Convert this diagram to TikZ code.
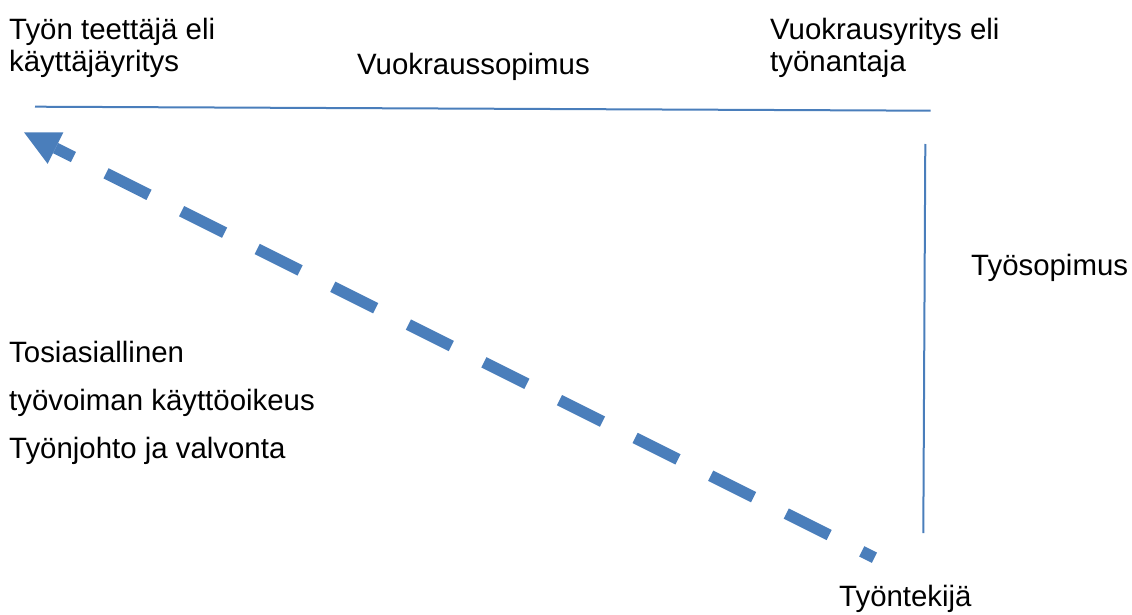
\documentclass[tikz,border=0pt]{standalone}
\usepackage{fontspec}
\setmainfont{Liberation Sans}
\usetikzlibrary{arrows.meta}
\definecolor{lineblue}{RGB}{74,126,187}
\begin{document}
\begin{tikzpicture}[x=1pt,y=-1pt,
  lbl/.style={anchor=base west,inner sep=0pt,font=\fontsize{29.4}{34}\selectfont,text=black},
  thinline/.style={draw=lineblue,line width=2pt},
  dasharrow/.style={draw=lineblue,line width=11.5pt,dash pattern=on 48pt off 36.5pt,dash phase=33.8pt,
    -{Triangle[length=35.3pt,width=35.3pt,line width=0pt]}}]
\useasboundingbox (0,0) rectangle (1132,615);
% texts
\node[lbl] (user1) at (9,39.5) {Työn teettäjä eli};
\node[lbl] (user2) at (9,71.5) {käyttäjäyritys};
\node[lbl] (lease) at (357,74.5) {Vuokraussopimus};
\node[lbl] (agency1) at (770,39.5) {Vuokrausyritys eli};
\node[lbl] (agency2) at (770,71.5) {työnantaja};
\node[lbl] (contract) at (971,275) {Työsopimus};
\node[lbl] (real1) at (9,362) {Tosiasiallinen};
\node[lbl] (real2) at (9,410) {työvoiman käyttöoikeus};
\node[lbl] (real3) at (9,458) {Työnjohto ja valvonta};
\node[lbl] (worker) at (839,606) {Työntekijä};
% connectors
\coordinate (hl) at (35,106.7);
\coordinate (hr) at (930.7,110.7);
\coordinate (vt) at (925.3,144);
\coordinate (vb) at (923.3,533);
\coordinate (tail) at (874.5,557.7);
\coordinate (tip) at (24,132.3);
\draw[thinline] (hl) -- (hr);
\draw[thinline] (vt) -- (vb);
\draw[dasharrow] (tail) -- (tip);
\end{tikzpicture}
\end{document}
